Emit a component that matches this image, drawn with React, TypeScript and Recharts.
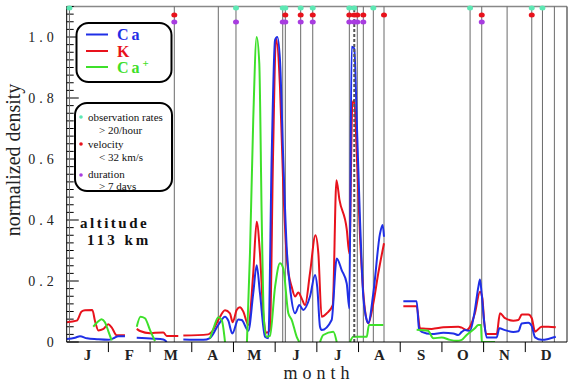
import React from 'react';
import { ComposedChart, Line, XAxis, YAxis, ReferenceLine, ReferenceDot } from 'recharts';

type Pt = [number, number | null];

// Ca, K and Ca+ normalized densities by day of year (null = no data)
const CA: Pt[] = [
  [0, 0.01], [6.1, 0.014], [9.7, 0.019], [14.8, 0.012], [22.1, 0.009], [30.4, 0.007], [34, 0.012], [37.6, 0.019], [42.5, 0.019], [44, null],
  [51.1, 0.014], [63.2, 0.011], [70.5, 0.008], [73, 0.0], [75, null],
  [85.1, 0.008], [99.7, 0.007], [104.5, 0.013], [110.6, 0.056], [115.5, 0.083], [117.9, 0.07], [120.8, 0.028], [125.2, 0.074], [127.7, 0.072],
  [132.5, 0.037], [136.1, 0.16], [138.6, 0.252], [141, 0.16], [144.7, 0.017], [147.1, 0.012], [149.6, 0.62], [152, 0.99], [153.6, 1.0],
  [155.6, 0.925], [158, 0.597], [160.5, 0.31], [163.4, 0.16], [166.6, 0.094], [169.7, 0.121], [172.6, 0.105], [177.5, 0.149], [181.2, 0.22],
  [182.8, 0.18], [184.8, 0.05], [186, 0.039], [193.3, 0.072], [197, 0.274], [200.6, 0.236], [204.3, 0.192], [206.2, 0.11], [207.9, 0.968],
  [209.8, 0.963], [211.6, 0.728], [214, 0.4], [216.4, 0.149], [218.9, 0.072], [220, 0.062], [223.7, 0.16], [228.6, 0.356], [230.5, 0.384],
  [231.5, 0.345], [233, null],
  [245.6, 0.134], [255.3, 0.134], [257, 0.045], [259, 0.033], [266.3, 0.026], [274.8, 0.03], [282.1, 0.028], [285.7, 0.023], [288.2, 0.033],
  [290.6, 0.039], [294.2, 0.036], [297.4, 0.094], [300.3, 0.18], [301.5, 0.205], [302.7, 0.16], [304.7, 0.061], [306.4, 0.015], [313.7, 0.015],
  [315.6, 0.045], [319.8, 0.039], [325.8, 0.033], [329.5, 0.035], [332, 0.061], [336.8, 0.063], [339.3, 0.052], [341.7, 0.015], [346.5, 0.007],
  [351.4, 0.01], [356.8, 0.017],
];

const K: Pt[] = [
  [0, 0.065], [7.3, 0.07], [10.9, 0.1], [13.4, 0.104], [18.7, 0.105], [20.6, 0.07], [23.1, 0.038], [26.5, 0.042], [30.4, 0.058], [32.8, 0.048],
  [36.5, 0.022], [42.5, 0.022], [44, null],
  [51.1, 0.043], [53.5, 0.036], [60.8, 0.029], [64.4, 0.03], [70.5, 0.031], [73, 0.02], [81.4, 0.02], [82.5, null],
  [85.1, 0.021], [103.3, 0.025], [105.8, 0.033], [110.6, 0.072], [115.5, 0.104], [119.1, 0.094], [121.1, 0.065], [124, 0.105], [126.4, 0.114],
  [128.8, 0.1], [132.5, 0.056], [136.1, 0.226], [138.6, 0.394], [141, 0.29], [143.4, 0.095], [145.9, 0.03], [148.3, 0.04], [150.5, 0.6],
  [152.7, 0.995], [155.6, 0.837], [158, 0.51], [160.9, 0.258], [164.2, 0.18], [166.6, 0.149], [169, 0.162], [171.4, 0.143], [173.9, 0.121],
  [177.5, 0.226], [181.5, 0.35], [183.6, 0.29], [186, 0.083], [189.7, 0.094], [194.1, 0.121], [196.8, 0.53], [199, 0.466], [204.3, 0.37],
  [206.2, 0.29], [208.4, 0.78], [209.8, 0.793], [211.6, 0.62], [214, 0.345], [217.6, 0.105], [220, 0.061], [223.7, 0.127], [227.3, 0.225],
  [231.5, 0.324], [233, null],
  [245.6, 0.117], [255.3, 0.117], [257.8, 0.045], [266.3, 0.043], [274.8, 0.048], [285.7, 0.05], [288.2, 0.047], [291.8, 0.039], [294.2, 0.05],
  [297.8, 0.094], [301.5, 0.165], [303.2, 0.145], [304.7, 0.061], [306.4, 0.026], [313.7, 0.026], [316.1, 0.094], [319.8, 0.078], [325.8, 0.07],
  [329.5, 0.072], [332, 0.09], [336.8, 0.09], [339.3, 0.078], [341.7, 0.034], [346.5, 0.05], [351.4, 0.05], [356.8, 0.048],
];

const CA_ION: Pt[] = [
  [19.4, 0.05], [23.1, 0.068], [25.5, 0.075], [27.9, 0.065], [30.4, 0.035], [32.8, 0.005], [34, null],
  [51.1, 0.05], [53.8, 0.083], [57.1, 0.078], [60.8, 0.039], [64.4, 0.003], [66, null],
  [104.5, 0.012], [107.5, 0.05], [110.6, 0.081], [113.1, 0.072], [115.5, 0.0], [117, null],
  [131.5, 0.0], [133.7, 0.29], [136.1, 0.73], [138.6, 1.0], [140.5, 0.914], [142.3, 0.4], [143.9, 0.072], [145.9, 0.017], [148.3, 0.02],
  [152, 0.18], [155.6, 0.258], [158, 0.241], [161.7, 0.094], [164.2, 0.072], [167.8, 0.017], [169.7, 0.0], [171, null],
  [184.8, 0.0], [187.2, 0.023], [194.5, 0.034], [197, 0.0], [198, null],
  [206.7, 0.0], [209.1, 0.017], [218.9, 0.017], [220.5, 0.056], [231, 0.056], [233, null],
  [255.3, 0.04], [263.6, 0.037], [267.5, 0.012], [273.6, 0.015], [279.6, 0.007], [284.5, 0.004], [288.2, 0.007], [291.8, 0.023],
  [297.8, 0.045], [300.3, 0.056], [302.3, 0.056], [302.8, 0.0], [312.5, 0.0],
];

// shower dates (day of year) and which criteria they meet
const SHOWER_LINES = [2, 78.5, 110.6, 123.5, 157.6, 159.5, 170.7, 179.5, 206.2, 212, 216.4, 223.7, 231.5, 294.3, 302.8, 321.3, 339.3, 347.1, 355.8];
const DASHED_LINE = 209.8;
const RATE_DAYS = [2, 123.5, 157.6, 159.5, 170.7, 179.5, 206.2, 209.8, 223.7, 294.3, 339.3, 347.1];
const VELOCITY_DAYS = [78.5, 159.5, 170.7, 179.5, 206.2, 209.8, 212, 216.4, 231.5, 302.8, 339.3];
const DURATION_DAYS = [78.5, 123.5, 157.6, 159.5, 170.7, 179.5, 206.2, 209.8, 212, 216.4, 302.8];

const MONTHS = ['J', 'F', 'M', 'A', 'M', 'J', 'J', 'A', 'S', 'O', 'N', 'D'];
const Y_LABELS = ['0', '0.2', '0.4', '0.6', '0.8', '1.0'];

const BLUE = '#1f2fe6';
const RED = '#e8121c';
const GREEN = '#3ee02a';
const TEAL = '#5ee8b4';
const PURPLE = '#a83ce0';
const SERIF = '"Liberation Serif", "DejaVu Serif", serif';

const toRows = (pts: Pt[]) => pts.map(([day, v]) => ({ day, v }));

const monthLen = 365 / 12;
const monthEdges: number[] = [];
for (let k = 1; k <= 11; k++) monthEdges.push(k * monthLen);
const monthMids = MONTHS.map((_, k) => (k + 0.5) * monthLen);

const yMajor = [0, 0.2, 0.4, 0.6, 0.8, 1.0];
const yMinor: number[] = [];
for (let i = 1; i <= 44; i++) if (i % 8 !== 0) yMinor.push(+(i * 0.025).toFixed(3));

// tick lengths in axis units (plot is ~500px for 365 days, ~305px per unit of density)
const MAJOR_TICK = 8.8;
const MINOR_TICK = 5.1;
const X_TICK = 0.033;

const XTick = (props: any) => {
  const { x, y, payload } = props;
  const idx = Math.floor(payload.value / monthLen);
  return (
    <text x={x} y={y + 18} textAnchor="middle" fontFamily={SERIF} fontSize={15} fontWeight="bold" fill="#222">
      {MONTHS[idx]}
    </text>
  );
};

const YTick = (props: any) => {
  const { x, y, payload } = props;
  const idx = Math.round(payload.value * 5);
  return (
    <text x={x - 9} y={y + 5} textAnchor="end" fontFamily={SERIF} fontSize={14} letterSpacing={4} fill="#222">
      {Y_LABELS[idx]}
    </text>
  );
};

const Marker = (color: string) => (props: any) => (
  <ellipse cx={props.cx} cy={props.cy} rx={3} ry={2.5} fill={color} />
);

export default function App() {
  return (
    <div style={{ position: 'absolute', left: 0, top: 0, width: 570, height: 383, background: '#fff' }}>
      <ComposedChart width={570} height={383} margin={{ top: 6.5, right: 3, bottom: 0, left: 0 }}>
        <XAxis
          type="number"
          dataKey="day"
          domain={[0, 365]}
          ticks={monthMids}
          interval={0}
          tickLine={false}
          tickSize={0}
          tickMargin={0}
          tick={<XTick />}
          height={41}
          stroke="#000"
          allowDataOverflow
        />
        <YAxis
          type="number"
          domain={[0, 1.1]}
          ticks={yMajor}
          interval={0}
          tickLine={false}
          tickSize={0}
          tickMargin={0}
          tick={<YTick />}
          width={66.7}
          stroke="#000"
          allowDataOverflow
        />
        <ReferenceLine y={1.1} stroke="#888" strokeWidth={1.5} />
        <ReferenceLine x={365} stroke="#666" strokeWidth={1.5} />
        {yMajor.map((v) => (
          <ReferenceLine key={`ym${v}`} segment={[{ x: 0, y: v }, { x: MAJOR_TICK, y: v }]} stroke="#000" strokeWidth={1} ifOverflow="visible" />
        ))}
        {yMinor.map((v) => (
          <ReferenceLine key={`yn${v}`} segment={[{ x: 0, y: v }, { x: MINOR_TICK, y: v }]} stroke="#000" strokeWidth={1} ifOverflow="visible" />
        ))}
        {monthEdges.map((d) => (
          <ReferenceLine key={`xt${d}`} segment={[{ x: d, y: 0 }, { x: d, y: -X_TICK }]} stroke="#000" strokeWidth={1} ifOverflow="visible" />
        ))}
        {SHOWER_LINES.map((d) => (
          <ReferenceLine key={`l${d}`} x={d} stroke="#6a6a6a" strokeWidth={1} />
        ))}
        <Line data={toRows(K)} dataKey="v" stroke={RED} strokeWidth={2} type="monotone" dot={false} isAnimationActive={false} />
        <Line data={toRows(CA)} dataKey="v" stroke={BLUE} strokeWidth={2} type="monotone" dot={false} isAnimationActive={false} />
        <Line data={toRows(CA_ION)} dataKey="v" stroke={GREEN} strokeWidth={2} type="monotone" dot={false} isAnimationActive={false} />
        <ReferenceLine x={DASHED_LINE} stroke="#555" strokeWidth={2} strokeDasharray="3 2" />
        {RATE_DAYS.map((d) => (
          <ReferenceDot key={`r${d}`} x={d} y={1.095} r={3} shape={Marker(TEAL)} />
        ))}
        {VELOCITY_DAYS.map((d) => (
          <ReferenceDot key={`v${d}`} x={d} y={1.072} r={3} shape={Marker(RED)} />
        ))}
        {DURATION_DAYS.map((d) => (
          <ReferenceDot key={`d${d}`} x={d} y={1.049} r={3} shape={Marker(PURPLE)} />
        ))}
      </ComposedChart>
      <svg width={570} height={383} style={{ position: 'absolute', left: 0, top: 0, pointerEvents: 'none' }}>
        <text transform="translate(20,160) rotate(-90)" textAnchor="middle" fontFamily={SERIF} fontSize={20} fill="#222">
          normalized density
        </text>
        <text x={319} y={379} textAnchor="middle" fontFamily={SERIF} fontSize={18} letterSpacing={5} fill="#222">
          month
        </text>
        <rect x={76.5} y={23} width={95} height={59} rx={12} fill="#fff" stroke="#000" strokeWidth={2} />
        <line x1={86} x2={108} y1={34.5} y2={34.5} stroke={BLUE} strokeWidth={2} />
        <text x={117} y={40} fontFamily={SERIF} fontSize={16} fontWeight="bold" letterSpacing={3} fill={BLUE}>Ca</text>
        <line x1={86} x2={108} y1={51} y2={51} stroke={RED} strokeWidth={2} />
        <text x={117} y={56.5} fontFamily={SERIF} fontSize={16} fontWeight="bold" letterSpacing={3} fill={RED}>K</text>
        <line x1={86} x2={108} y1={67} y2={67} stroke={GREEN} strokeWidth={2} />
        <text x={117} y={73} fontFamily={SERIF} fontSize={16} fontWeight="bold" letterSpacing={3} fill={GREEN}>
          Ca<tspan dy={-6} fontSize={11}>+</tspan>
        </text>
        <rect x={75} y={103} width={97} height={88} rx={12} fill="#fff" stroke="#000" strokeWidth={2} />
        <circle cx={81} cy={117} r={1.8} fill={TEAL} />
        <text x={88} y={121} fontFamily={SERIF} fontSize={11} fill="#111">observation rates</text>
        <text x={99} y={134} fontFamily={SERIF} fontSize={11} fill="#111">{'> 20/hour'}</text>
        <circle cx={81} cy={144} r={1.8} fill={RED} />
        <text x={88} y={148} fontFamily={SERIF} fontSize={11} fill="#111">velocity</text>
        <text x={99} y={161} fontFamily={SERIF} fontSize={11} fill="#111">{'< 32 km/s'}</text>
        <circle cx={81} cy={175} r={1.8} fill={PURPLE} />
        <text x={88} y={178} fontFamily={SERIF} fontSize={11} fill="#111">duration</text>
        <text x={99} y={190} fontFamily={SERIF} fontSize={11} fill="#111">{'> 7 days'}</text>
        <text x={80} y={228} fontFamily={SERIF} fontSize={15} fontWeight="bold" letterSpacing={2.5} fill="#111">altitude</text>
        <text x={87} y={245} fontFamily={SERIF} fontSize={15} fontWeight="bold" letterSpacing={3} fill="#111">113 km</text>
      </svg>
    </div>
  );
}
